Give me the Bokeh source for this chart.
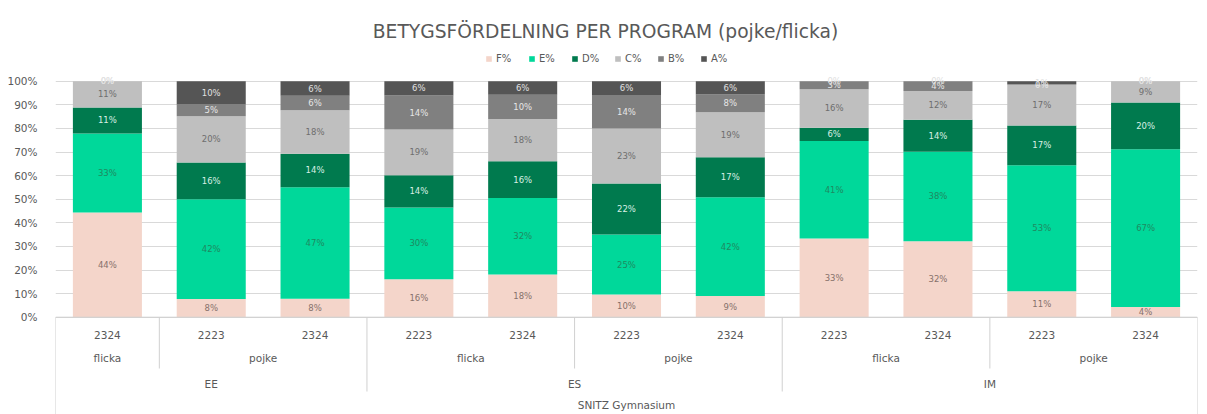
from bokeh.plotting import figure
from bokeh.models import (ColumnDataSource, Range1d, FixedTicker, NumeralTickFormatter,
                          Label, Legend, LegendItem)
from bokeh.embed import file_html
from bokeh.resources import INLINE
from bokeh.core.properties import value

# ---------------- data ----------------
school = "SNITZ Gymnasium"
programs = ["EE", "EE", "EE", "ES", "ES", "ES", "ES", "IM", "IM", "IM", "IM"]
genders = ["flicka", "pojke", "pojke", "flicka", "flicka", "pojke", "pojke",
           "flicka", "flicka", "pojke", "pojke"]
years = ["2324", "2223", "2324", "2223", "2324", "2223", "2324", "2223", "2324", "2223", "2324"]

series_names = ["F%", "E%", "D%", "C%", "B%", "A%"]
F = [44.4, 7.7, 7.8, 16.1, 18.1, 9.6, 9.0, 33.3, 32.2, 11.0, 4.3]
E = [33.4, 42.3, 47.3, 30.4, 32.4, 25.4, 41.8, 41.4, 37.9, 53.4, 66.9]
D = [11.1, 15.6, 14.2, 13.6, 15.6, 21.7, 17.0, 5.6, 13.6, 16.8, 19.8]
C = [11.1, 19.6, 18.4, 19.4, 17.9, 23.3, 19.0, 16.3, 12.1, 17.4, 9.0]
B = [0.0, 4.9, 6.1, 14.4, 10.3, 14.1, 7.6, 3.4, 4.2, 0.0, 0.0]
A = [0.0, 9.9, 6.2, 6.1, 5.7, 5.9, 5.6, 0.0, 0.0, 1.4, 0.0]

bar_colors = ["#F4D5CA", "#00D89A", "#007A4E", "#BFBFBF", "#808080", "#555555"]
label_colors = ["#86716B", "#1F8A61", "#D8EFE4", "#6E6E6E", "#E6E6E6", "#E0E0E0"]

FONT = "DejaVu Sans"
TXT = "#595959"

# ---------------- layout helpers (pixel placement) ----------------
W, H = 1207, 414
LEFT, RIGHT = 55, 1197   # frame edges in pixels
ZERO_PY = 316.7          # pixel row of the 0 % line
PPU = 236.0              # pixels per 100 %


def py(y_pix):
    """pixel row -> data y"""
    return (ZERO_PY - y_pix) / PPU


n = len(years)
CW = (RIGHT - LEFT) / n


def px(x_pix):
    """pixel column -> data x"""
    return (x_pix - LEFT) / CW


xs = [i + 0.5 for i in range(n)]
cols = {"F": F, "E": E, "D": D, "C": C, "B": B, "A": A}
keys = list(cols.keys())
data = {"x": xs}
for k in keys:
    data[k] = [v / 100.0 for v in cols[k]]
src = ColumnDataSource(data)

p = figure(width=W, height=H, output_backend="svg", toolbar_location=None,
           x_range=Range1d(0, n), y_range=Range1d(py(H), py(0)),
           x_axis_location=None, min_border_left=LEFT, min_border_right=W - RIGHT,
           min_border_top=0, min_border_bottom=0)
p.outline_line_color = None
p.xgrid.visible = False
ticks = [i / 10 for i in range(11)]
p.yaxis.ticker = FixedTicker(ticks=ticks)
p.ygrid.ticker = FixedTicker(ticks=ticks)
p.ygrid.grid_line_color = "#D9D9D9"
p.yaxis.formatter = NumeralTickFormatter(format="0%")
p.yaxis.axis_line_color = None
p.yaxis.major_tick_line_color = None
p.yaxis.minor_tick_line_color = None
p.yaxis.major_label_standoff = 12
p.yaxis.major_label_text_font = FONT
p.yaxis.major_label_text_font_size = "10.5px"
p.yaxis.major_label_text_color = TXT

renderers = p.vbar_stack(keys, x="x", width=0.665, source=src,
                         color=bar_colors, line_color=None)

# data labels
lx, ly, lt, lc = [], [], [], []
for i in range(n):
    cum = 0.0
    for k, col in zip(keys, label_colors):
        v = cols[k][i] / 100.0
        lx.append(xs[i])
        ly.append(cum + v / 2)
        lt.append(f"{round(cols[k][i])}%")
        lc.append(col)
        cum += v
p.text(x="x", y="y", text="t", text_color="c",
       source=ColumnDataSource(dict(x=lx, y=ly, t=lt, c=lc)),
       text_align="center", text_baseline="middle",
       text_font=value(FONT), text_font_size="8.5px")

# legend (bottom-left corner given in frame pixels)
legend = Legend(items=[LegendItem(label=nm, renderers=[r]) for nm, r in zip(series_names, renderers)],
                location=(485 - LEFT, H - 64), orientation="horizontal",
                glyph_width=7, glyph_height=7, label_standoff=4, spacing=12,
                padding=0, margin=0, label_height=10,
                background_fill_alpha=0, border_line_color=None,
                label_text_font=FONT, label_text_font_size="10px",
                label_text_color=TXT)
p.add_layout(legend)

# title
p.add_layout(Label(x=px(605), y=py(30.5), text="BETYGSFÖRDELNING PER PROGRAM (pojke/flicka)",
                   text_align="center", text_baseline="alphabetic",
                   text_font=FONT, text_font_size="18.7px", text_color=TXT))

# ---------------- multi-level category table ----------------
LINE = "#D0D0D0"
row_year, row_gender, row_prog, row_school = py(334), py(357), py(383), py(404)
end_gender, end_prog = py(368), py(391)
y_bottom = py(H)


def runs(keys_):
    out = []
    start = 0
    for i in range(1, n + 1):
        if i == n or keys_[i] != keys_[start]:
            out.append((start, i, keys_[start]))
            start = i
    return out


g_runs = runs(list(zip(programs, genders)))
p_runs = runs(programs)

tx, ty, tt = [], [], []
for i in range(n):
    tx.append(xs[i]); ty.append(row_year); tt.append(years[i])
for s, e, k in g_runs:
    tx.append((s + e) / 2); ty.append(row_gender); tt.append(k[1])
for s, e, k in p_runs:
    tx.append((s + e) / 2); ty.append(row_prog); tt.append(k)
tx.append(n / 2); ty.append(row_school); tt.append(school)
p.text(x="x", y="y", text="t", source=ColumnDataSource(dict(x=tx, y=ty, t=tt)),
       text_align="center", text_baseline="middle", text_font=value(FONT),
       text_font_size="10.5px", text_color=TXT)

prog_bounds = {s for s, e, k in p_runs}
sx0, sy0, sx1, sy1 = [], [], [], []
for s, e, k in g_runs:
    if s == 0:
        continue
    yb = end_prog if s in prog_bounds else end_gender
    sx0.append(s); sx1.append(s); sy0.append(0); sy1.append(yb)
for edge in (0, n):
    sx0.append(edge); sx1.append(edge); sy0.append(0); sy1.append(y_bottom)
sx0.append(0); sx1.append(n); sy0.append(0); sy1.append(0)
p.segment(x0="x0", y0="y0", x1="x1", y1="y1",
          source=ColumnDataSource(dict(x0=sx0, y0=sy0, x1=sx1, y1=sy1)),
          line_color=LINE, line_width=1)

open("out.html", "w").write(file_html(p, INLINE))
